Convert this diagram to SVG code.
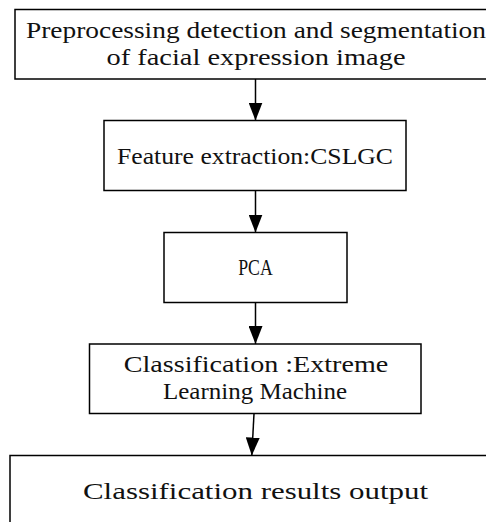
<svg xmlns="http://www.w3.org/2000/svg" width="486" height="522" viewBox="0 0 486 522">
<style>
.box{fill:#fff;stroke:#000;stroke-width:1.5}
.t{font-family:"Liberation Serif","DejaVu Serif",serif;font-size:23px;fill:#111;text-anchor:middle}
.c{stroke:#000;stroke-width:1.5;fill:none}
</style>
<defs>
<marker id="arrow" markerUnits="userSpaceOnUse" markerWidth="20" markerHeight="14" viewBox="0 0 20 14" refX="18" refY="7" orient="auto">
<path d="M0,0 L18,7 L0,14 Z" fill="#000"/>
</marker>
</defs>
<rect width="486" height="522" fill="#fff"/>
<g id="n1">
<rect class="box" x="15" y="9.5" width="485" height="69.5"/>
<text class="t" x="256" y="37.5" textLength="460" lengthAdjust="spacingAndGlyphs">Preprocessing detection and segmentation</text>
<text class="t" x="256" y="65" textLength="299" lengthAdjust="spacingAndGlyphs">of facial expression image</text>
</g>
<g id="n2">
<rect class="box" x="104" y="120.5" width="302" height="70"/>
<text class="t" x="255" y="164" textLength="276" lengthAdjust="spacingAndGlyphs">Feature extraction:CSLGC</text>
</g>
<g id="n3">
<rect class="box" x="164" y="232.5" width="183" height="70"/>
<text class="t" x="255.5" y="275" textLength="34.5" lengthAdjust="spacingAndGlyphs">PCA</text>
</g>
<g id="n4">
<rect class="box" x="89.5" y="344" width="331.5" height="69.5"/>
<text class="t" x="256" y="371.5" textLength="264.5" lengthAdjust="spacingAndGlyphs">Classification :Extreme</text>
<text class="t" x="255" y="399" textLength="184" lengthAdjust="spacingAndGlyphs">Learning Machine</text>
</g>
<g id="n5">
<rect class="box" x="10" y="455.5" width="490" height="80"/>
<text class="t" x="255.5" y="499" textLength="345" lengthAdjust="spacingAndGlyphs">Classification results output</text>
</g>
<g id="connectors">
<line class="c" x1="255.5" y1="79" x2="255.5" y2="120.5" marker-end="url(#arrow)"/>
<line class="c" x1="255.5" y1="190.5" x2="255.5" y2="232.5" marker-end="url(#arrow)"/>
<line class="c" x1="255.5" y1="302.5" x2="255.5" y2="344" marker-end="url(#arrow)"/>
<line class="c" x1="254" y1="413.5" x2="251.8" y2="455.5" marker-end="url(#arrow)"/>
</g>
</svg>
